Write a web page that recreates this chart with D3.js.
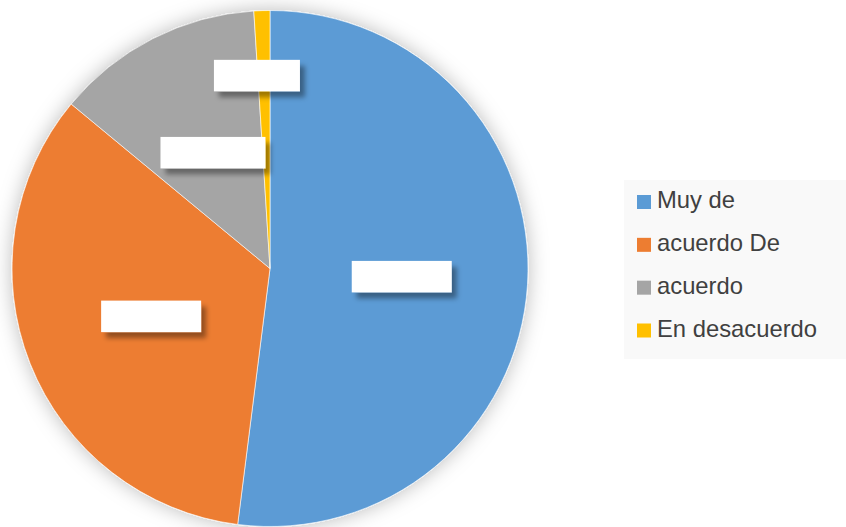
<!DOCTYPE html>
<html>
<head>
<meta charset="utf-8">
<script src="https://cdn.jsdelivr.net/npm/d3@7"></script>
<style>
  html, body { margin: 0; padding: 0; background: #ffffff; }
  svg { display: block; }
</style>
</head>
<body>
<svg id="chart" width="846" height="527"></svg>
<script>
// Survey responses (percent of respondents)
const categories = ["Muy de acuerdo", "De acuerdo", "En desacuerdo", "Totalmente en desacuerdo"];
const values = [52, 34, 13, 1];
const valueLabels = ["52%", "34%", "13%", "1%"];
// Legend text as it wraps in the legend box
const legendLines = ["Muy de", "acuerdo De", "acuerdo", "En desacuerdo"];
const colors = ["#5B9BD5", "#ED7D31", "#A5A5A5", "#FFC000"];

const width = 846, height = 527;
const cx = 270, cy = 268.5, R = 258;

const svg = d3.select("#chart");
const defs = svg.append("defs");

// soft glow around the pie
const glow = defs.append("filter").attr("id", "pieGlow")
  .attr("x", "-20%").attr("y", "-20%").attr("width", "140%").attr("height", "140%");
glow.append("feGaussianBlur").attr("in", "SourceAlpha").attr("stdDeviation", 10).attr("result", "b");
glow.append("feFlood").attr("flood-color", "#000").attr("flood-opacity", 0.27);
glow.append("feComposite").attr("in2", "b").attr("operator", "in").attr("result", "s");
const gm = glow.append("feMerge");
gm.append("feMergeNode").attr("in", "s");
gm.append("feMergeNode").attr("in", "SourceGraphic");

// drop shadow under data label boxes
const ds = defs.append("filter").attr("id", "labelShadow")
  .attr("x", "-30%").attr("y", "-50%").attr("width", "160%").attr("height", "200%");
ds.append("feGaussianBlur").attr("in", "SourceAlpha").attr("stdDeviation", 2.5).attr("result", "b");
ds.append("feOffset").attr("in", "b").attr("dx", 5).attr("dy", 6).attr("result", "o");
ds.append("feFlood").attr("flood-color", "#000").attr("flood-opacity", 0.38);
ds.append("feComposite").attr("in2", "o").attr("operator", "in").attr("result", "s");
const dm = ds.append("feMerge");
dm.append("feMergeNode").attr("in", "s");
dm.append("feMergeNode").attr("in", "SourceGraphic");

const pie = d3.pie().sort(null).value(d => d)(values);
const arc = d3.arc().innerRadius(0).outerRadius(R);

const g = svg.append("g").attr("transform", `translate(${cx},${cy})`);

g.append("g").attr("filter", "url(#pieGlow)")
  .selectAll("path").data(pie).join("path")
  .attr("d", arc)
  .attr("fill", (d, i) => colors[i])
  .attr("stroke", "#ffffff")
  .attr("stroke-opacity", 0.6)
  .attr("stroke-width", 1);

// data labels: white boxes placed near the middle of each slice
const boxW = [100, 100, 105, 86];
const boxH = 31.5;
const labels = g.append("g").selectAll("g").data(pie).join("g")
  .attr("transform", (d, i) => {
    const a = (d.startAngle + d.endAngle) / 2;
    const thin = (d.endAngle - d.startAngle) < 0.2;
    // the thin last slice gets its label pushed outward
    const r = thin ? 193 : 130;
    const dx = thin ? -7 : 2;
    return `translate(${Math.sin(a) * r + dx},${-Math.cos(a) * r})`;
  });
labels.append("rect")
  .attr("x", (d, i) => -boxW[i] / 2)
  .attr("y", -boxH / 2)
  .attr("width", (d, i) => boxW[i])
  .attr("height", boxH)
  .attr("fill", "#ffffff")
  .attr("filter", "url(#labelShadow)");
labels.append("text")
  .attr("text-anchor", "middle")
  .attr("dy", "0.35em")
  .attr("font-family", "Liberation Sans, Arial, sans-serif")
  .attr("font-size", 18)
  .attr("fill", "#ffffff")
  .text((d, i) => valueLabels[i]);

// legend
const legend = svg.append("g");
legend.append("rect")
  .attr("x", 624).attr("y", 180).attr("width", 222).attr("height", 179)
  .attr("fill", "#f9f9f9");
const ly = d3.scaleLinear().domain([0, 3]).range([208, 336.5]);
const items = legend.selectAll("g.item").data(legendLines).join("g").attr("class", "item");
items.append("rect")
  .attr("x", 637).attr("y", (d, i) => ly(i) - 13)
  .attr("width", 14).attr("height", 14)
  .attr("fill", (d, i) => colors[i]);
items.append("text")
  .attr("x", 657).attr("y", (d, i) => ly(i))
  .attr("font-family", "Liberation Sans, Arial, sans-serif")
  .attr("font-size", 23.8)
  .attr("fill", "#404040")
  .text(d => d);
</script>
</body>
</html>
